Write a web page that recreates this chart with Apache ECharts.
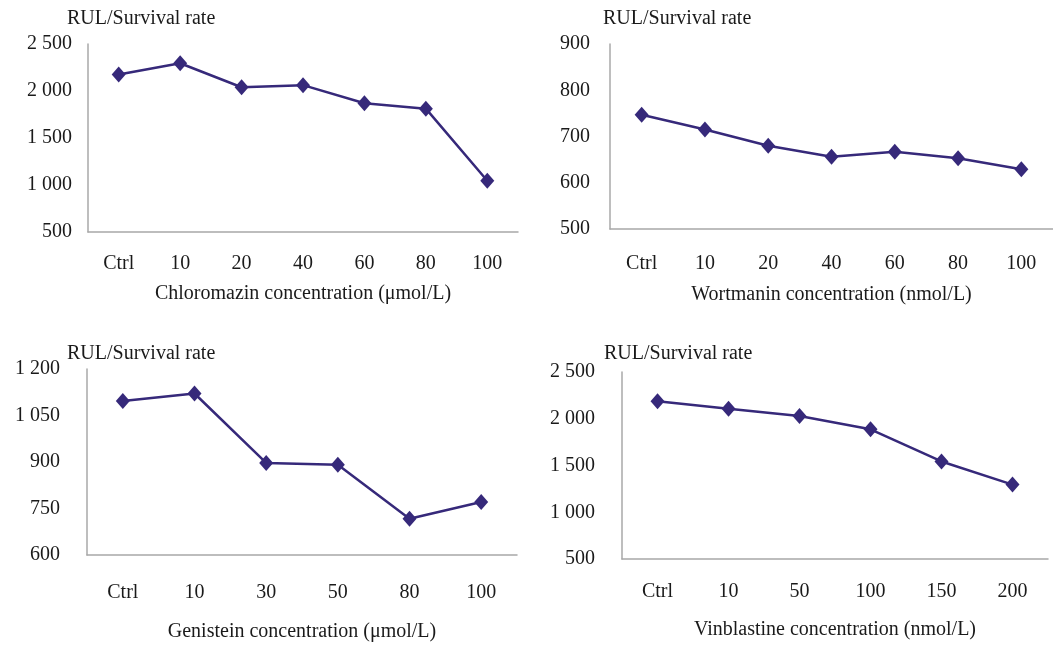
<!DOCTYPE html>
<html>
<head>
<meta charset="utf-8">
<script src="https://cdn.jsdelivr.net/npm/echarts@6/dist/echarts.min.js"></script>
<style>
html,body{margin:0;padding:0;background:#fff;}
#chart{width:1053px;height:646px;}
</style>
</head>
<body>
<div id="chart"></div>
<script>
// ---- data ----
const chloroCats = ['Ctrl', '10', '20', '40', '60', '80', '100'];
const chloroVals = [2175, 2295, 2040, 2062, 1870, 1812, 1045];
const wortCats = ['Ctrl', '10', '20', '40', '60', '80', '100'];
const wortVals = [747, 715, 680, 656, 667, 653, 629];
const geniCats = ['Ctrl', '10', '30', '50', '80', '100'];
const geniVals = [1097, 1121, 897, 891, 717, 771];
const vinbCats = ['Ctrl', '10', '50', '100', '150', '200'];
const vinbVals = [2188, 2108, 2030, 1887, 1543, 1296];
const yTitle = 'RUL/Survival rate';
const xTitles = ['Chloromazin concentration (\u03bcmol/L)', 'Wortmanin concentration (nmol/L)',
                 'Genistein concentration (\u03bcmol/L)', 'Vinblastine concentration (nmol/L)'];

// ---- styling ----
const FONT = 'Liberation Serif';
const TXT = '#1a1a1a';
const LINE = '#36297a';
const AXIS = '#a8a8a8';

function fmt(v){
  const s = String(v);
  return s.length > 3 ? s.slice(0, s.length - 3) + ' ' + s.slice(-3) : s;
}

const grids = [
  {left: 88, top: 44, width: 430, height: 188},
  {left: 610, top: 44, width: 443, height: 185},
  {left: 87, top: 369, width: 430, height: 186},
  {left: 622, top: 372, width: 426, height: 187}
];
const yRanges = [[500, 2500, 500], [500, 900, 100], [600, 1200, 150], [500, 2500, 500]];
const yMargins = [16, 20, 27, 27];
const xMargins = [22, 25, 28, 23];
const xNameGaps = [52, 56, 67, 61];
const cats = [chloroCats, wortCats, geniCats, vinbCats];
const vals = [chloroVals, wortVals, geniVals, vinbVals];
const titlePos = [{left: 67, top: 9}, {left: 603, top: 9}, {left: 67, top: 344}, {left: 604, top: 344}];

const option = {
  backgroundColor: '#ffffff',
  animation: false,
  title: titlePos.map(p => ({
    text: yTitle, left: p.left, top: p.top, padding: 0,
    textStyle: {fontFamily: FONT, fontSize: 20, fontWeight: 'normal', color: TXT}
  })),
  grid: grids,
  xAxis: cats.map((c, i) => ({
    type: 'category', gridIndex: i, data: c, boundaryGap: true,
    name: xTitles[i], nameLocation: 'middle', nameGap: xNameGaps[i],
    nameTextStyle: {fontFamily: FONT, fontSize: 20, color: TXT, verticalAlign: 'top'},
    axisLine: {show: true, lineStyle: {color: AXIS, width: 1.5}},
    axisTick: {show: false},
    axisLabel: {fontFamily: FONT, fontSize: 20, color: TXT, margin: xMargins[i], interval: 0}
  })),
  yAxis: yRanges.map((r, i) => ({
    type: 'value', gridIndex: i, min: r[0], max: r[1], interval: r[2],
    axisLine: {show: true, lineStyle: {color: AXIS, width: 1.5}},
    axisTick: {show: false},
    splitLine: {show: false},
    axisLabel: {fontFamily: FONT, fontSize: 20, color: TXT, margin: yMargins[i], formatter: fmt}
  })),
  series: vals.map((v, i) => ({
    type: 'line', xAxisIndex: i, yAxisIndex: i, data: v,
    symbol: 'diamond', symbolSize: [14, 16],
    lineStyle: {color: LINE, width: 2.5},
    itemStyle: {color: LINE}
  }))
};

const chart = echarts.init(document.getElementById('chart'), null, {renderer: 'canvas'});
chart.setOption(option);
</script>
</body>
</html>
